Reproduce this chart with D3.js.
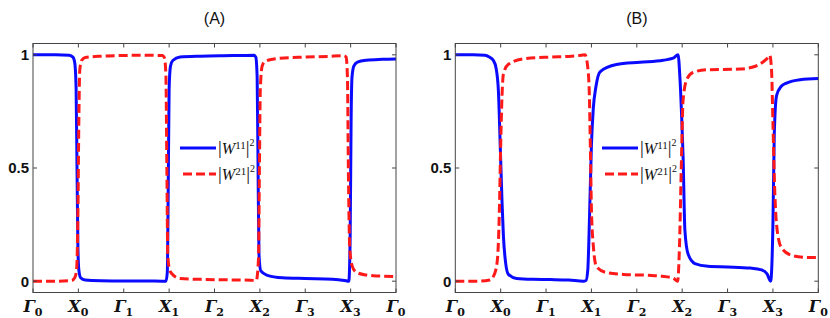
<!DOCTYPE html>
<meta charset="utf-8">
<style>
body { margin: 0; background: #fff; }
.frame { fill: none; stroke: #444; stroke-width: 1; }
.tick { stroke: #444; stroke-width: 1; }
.ylab { font: bold 15px "Liberation Sans", Arial, sans-serif; fill: #111; }
.xlab { font: bold italic 16px "DejaVu Serif", "Liberation Serif", serif; fill: #111; }
.title { font: 16px "Liberation Sans", Arial, sans-serif; fill: #111; }
.leg { font: 16px "Liberation Serif", serif; fill: #111; }
</style>
<body>
<script src="https://cdn.jsdelivr.net/npm/d3@7"></script>
<script>

// x positions: 0..8 along Γ0 X0 Γ1 X1 Γ2 X2 Γ3 X3 Γ0
var xTickLabels = ["Γ0", "X0", "Γ1", "X1", "Γ2", "X2", "Γ3", "X3", "Γ0"];
var yTicks = [0, 0.5, 1];
var yTickLabels = ["0", "0.5", "1"];
var panelTitles = ["(A)", "(B)"];

// panel A, |W11|^2 (blue)
var blueA = [[0,1],[0.5,1],[0.8,0.998],[0.88,0.99],[0.92,0.965],[0.95,0.85],[0.97,0.5],[0.99,0.15],[1.01,0.05],[1.05,0.015],[1.15,0.005],[1.5,0.002],[2.0,0.001],[2.5,0.001],[2.85,0.0],[2.93,0.0],[2.96,0.04],[2.98,0.4],[3.0,0.85],[3.03,0.95],[3.08,0.975],[3.24,0.99],[3.7,0.994],[4.2,0.996],[4.6,0.997],[4.87,0.998],[4.91,0.99],[4.94,0.9],[4.96,0.5],[4.98,0.12],[5.02,0.045],[5.15,0.027],[5.5,0.015],[6.0,0.012],[6.6,0.009],[6.9,0.002],[6.96,0.0],[6.99,0.2],[7.01,0.7],[7.03,0.9],[7.07,0.95],[7.15,0.968],[7.35,0.976],[7.7,0.98],[8,0.982]];
// panel A, |W21|^2 (red)
var redA = [[0,0],[0.5,0],[0.85,0.003],[0.92,0.015],[0.96,0.05],[0.99,0.3],[1.01,0.7],[1.03,0.93],[1.07,0.975],[1.15,0.988],[1.5,0.994],[2.0,0.997],[2.5,0.998],[2.85,0.997],[2.9,0.985],[2.93,0.9],[2.95,0.5],[2.97,0.12],[3.0,0.06],[3.05,0.035],[3.24,0.012],[3.7,0.008],[4.3,0.006],[4.8,0.004],[4.92,0.003],[4.97,0.1],[4.99,0.5],[5.01,0.85],[5.05,0.95],[5.12,0.972],[5.44,0.985],[6.0,0.99],[6.5,0.993],[6.85,0.996],[6.9,0.99],[6.93,0.9],[6.95,0.5],[6.98,0.15],[7.03,0.07],[7.12,0.04],[7.35,0.027],[7.6,0.023],[8,0.021]];

// panel B, |W11|^2 (blue)
var blueB = [[0,1],[0.4,1],[0.65,0.998],[0.75,0.99],[0.84,0.975],[0.9,0.94],[0.95,0.84],[0.99,0.6],[1.03,0.35],[1.06,0.2],[1.11,0.08],[1.17,0.03],[1.35,0.012],[1.7,0.008],[2.1,0.007],[2.5,0.005],[2.82,0.0],[2.88,0.003],[2.92,0.05],[2.96,0.3],[3.0,0.6],[3.04,0.76],[3.1,0.86],[3.19,0.925],[3.55,0.957],[4.07,0.967],[4.58,0.976],[4.8,0.985],[4.91,1.0],[4.95,0.9],[4.99,0.72],[5.02,0.55],[5.06,0.225],[5.13,0.12],[5.28,0.078],[5.57,0.066],[6.0,0.063],[6.5,0.058],[6.75,0.05],[6.87,0.032],[6.95,0.0],[7.0,0.25],[7.03,0.65],[7.08,0.82],[7.18,0.86],[7.3,0.875],[7.6,0.89],[8,0.895]];
// panel B, |W21|^2 (red)
var redB = [[0,0],[0.5,0],[0.76,0.005],[0.87,0.035],[0.93,0.1],[0.97,0.3],[1.0,0.6],[1.03,0.82],[1.06,0.915],[1.17,0.958],[1.5,0.982],[2.1,0.99],[2.5,0.993],[2.78,0.998],[2.86,1.0],[2.91,0.96],[2.95,0.85],[2.98,0.55],[3.0,0.32],[3.04,0.16],[3.11,0.065],[3.33,0.038],[3.7,0.03],[4.25,0.026],[4.55,0.022],[4.8,0.014],[4.9,0.0],[4.94,0.15],[4.98,0.5],[5.02,0.8],[5.1,0.89],[5.24,0.922],[5.53,0.934],[6.27,0.937],[6.56,0.946],[6.78,0.968],[6.9,0.99],[6.93,0.998],[6.97,0.93],[7.0,0.7],[7.04,0.4],[7.08,0.25],[7.18,0.15],[7.4,0.115],[7.7,0.105],[8,0.104]];

var legendLabels = ["11", "21"];

var W = 830, H = 318;
var svg = d3.select("body").append("svg")
    .attr("width", W)
    .attr("height", H);

var panels = [
  {left: 33, right: 396, title: panelTitles[0], blue: blueA, red: redA, legX: 180},
  {left: 455.3, right: 818.3, title: panelTitles[1], blue: blueB, red: redB, legX: 602}
];

var plotTop = 43.5, plotBottom = 292.5;

panels.forEach(function(p) {
    var x = d3.scaleLinear().domain([0, 8]).range([p.left, p.right]);
    var y = d3.scaleLinear().domain([-0.05, 1.05]).range([plotBottom, plotTop]);
    var g = svg.append("g");

    g.append("text")
        .attr("class", "title")
        .attr("x", (p.left + p.right) / 2)
        .attr("y", 24)
        .attr("text-anchor", "middle")
        .text(p.title);

    var line = d3.line()
        .x(function(d) { return x(d[0]); })
        .y(function(d) { return y(d[1]); })
        .curve(d3.curveMonotoneX);

    g.append("path")
        .datum(p.blue)
        .attr("d", line)
        .attr("fill", "none")
        .attr("stroke", "#0a0aff")
        .attr("stroke-width", 3);

    g.append("path")
        .datum(p.red)
        .attr("d", line)
        .attr("fill", "none")
        .attr("stroke", "#ff1a1a")
        .attr("stroke-width", 3)
        .attr("stroke-dasharray", "9,4");

    // frame
    g.append("rect")
        .attr("class", "frame")
        .attr("x", p.left)
        .attr("y", plotTop)
        .attr("width", p.right - p.left)
        .attr("height", plotBottom - plotTop);

    // x ticks (inward, top and bottom)
    d3.range(9).forEach(function(i) {
        g.append("line").attr("class", "tick")
            .attr("x1", x(i)).attr("x2", x(i))
            .attr("y1", plotBottom).attr("y2", plotBottom - 4);
        g.append("line").attr("class", "tick")
            .attr("x1", x(i)).attr("x2", x(i))
            .attr("y1", plotTop).attr("y2", plotTop + 4);
        var lab = g.append("text")
            .attr("class", "xlab")
            .attr("x", x(i))
            .attr("y", 312)
            .attr("text-anchor", "middle");
        lab.append("tspan").text(xTickLabels[i][0]);
        lab.append("tspan")
            .attr("dy", 4)
            .style("font-size", "11px")
            .style("font-style", "normal")
            .text(xTickLabels[i].slice(1));
    });

    // y ticks
    yTicks.forEach(function(v, i) {
        g.append("line").attr("class", "tick")
            .attr("x1", p.left).attr("x2", p.left + 4)
            .attr("y1", y(v)).attr("y2", y(v));
        g.append("line").attr("class", "tick")
            .attr("x1", p.right).attr("x2", p.right - 4)
            .attr("y1", y(v)).attr("y2", y(v));
        g.append("text")
            .attr("class", "ylab")
            .attr("x", p.left - 4)
            .attr("y", y(v))
            .attr("dy", "0.36em")
            .attr("text-anchor", "end")
            .text(yTickLabels[i]);
    });

    // legend
    var leg = [{c: "#0a0aff", dash: null, y: 148, s: legendLabels[0]},
               {c: "#ff1a1a", dash: "9,4", y: 174, s: legendLabels[1]}];
    leg.forEach(function(l, k) {
        g.append("line")
            .attr("x1", p.legX + (k ? 3 : 0)).attr("x2", p.legX + 36)
            .attr("y1", l.y).attr("y2", l.y)
            .attr("stroke", l.c)
            .attr("stroke-width", 3)
            .attr("stroke-dasharray", l.dash);
        var t = g.append("text")
            .attr("class", "leg")
            .attr("x", p.legX + 38)
            .attr("y", l.y + 6);
        t.append("tspan").style("font-size", "19px").text("|");
        t.append("tspan").style("font-style", "italic").text("W");
        t.append("tspan").attr("dy", -5).style("font-size", "11px").text(l.s);
        t.append("tspan").attr("dy", 5).style("font-size", "19px").text("|");
        t.append("tspan").attr("dy", -8).style("font-size", "10px").text("2");
    });
});

</script>
